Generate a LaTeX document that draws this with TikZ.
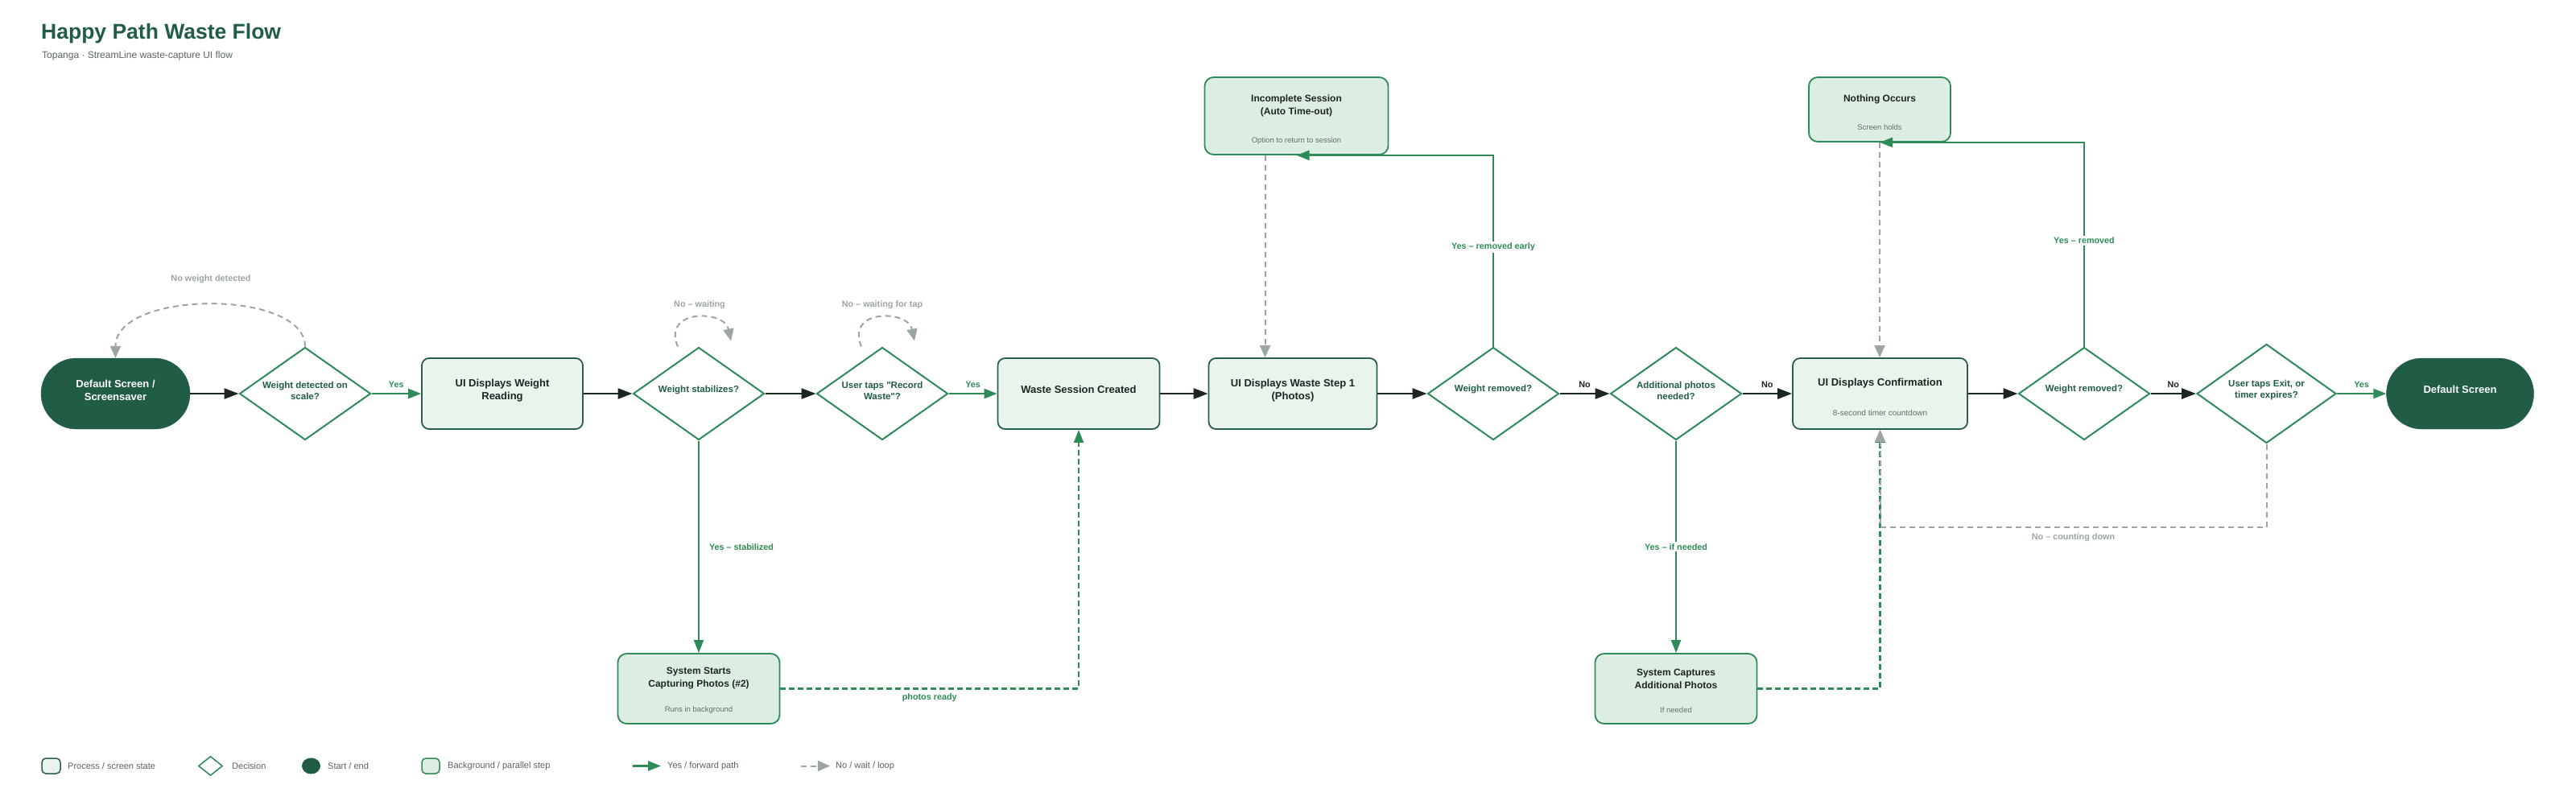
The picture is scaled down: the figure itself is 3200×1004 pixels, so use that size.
\documentclass[tikz,border=0pt]{standalone}
\usepackage{fontspec}
\setmainfont{Liberation Sans}[Ligatures=TeXOff]
\usetikzlibrary{shapes.geometric,arrows.meta,calc}
\definecolor{dkgreen}{HTML}{215C44}
\definecolor{fgreen}{HTML}{2E8B57}
\definecolor{procfill}{HTML}{E8F4EC}
\definecolor{bgfill}{HTML}{DCEEE3}
\definecolor{procdraw}{HTML}{2B5E4A}
\definecolor{grayc}{HTML}{9CA6A1}
\definecolor{blk}{HTML}{1B2620}
\definecolor{subgray}{HTML}{66706B}
\definecolor{txt}{HTML}{1E2622}
\definecolor{legtxt}{HTML}{5A6460}
\tikzset{
  proc/.style={draw=procdraw, line width=1.8pt, fill=procfill, rounded corners=9pt, inner sep=0pt, minimum height=88pt},
  bgbox/.style={draw=fgreen, line width=1.8pt, fill=bgfill, rounded corners=11pt, inner sep=0pt},
  term/.style={draw=dkgreen, fill=dkgreen, rounded corners=44pt, inner sep=0pt, minimum height=88pt},
  dec/.style={diamond, draw=fgreen, line width=2pt, fill=white, inner sep=0pt, minimum width=163pt, minimum height=115pt},
  ptext/.style={align=center, text=txt, font=\fontsize{13}{16}\selectfont\bfseries, inner sep=0pt},
  btext/.style={align=center, text=txt, font=\fontsize{12}{16}\selectfont\bfseries, inner sep=0pt},
  dtext/.style={align=center, text=dkgreen, font=\fontsize{11.5}{14}\selectfont\bfseries, inner sep=0pt},
  wtext/.style={align=center, text=white, font=\fontsize{13}{16}\selectfont\bfseries, inner sep=0pt},
  stext/.style={text=subgray, font=\fontsize{10}{12}\selectfont, inner sep=0pt},
  bstext/.style={text=subgray, font=\fontsize{9.5}{12}\selectfont, inner sep=0pt},
  blkarrow/.style={draw=blk, line width=2.6pt, -{Triangle[length=18pt,width=13pt]}},
  grnarrow/.style={draw=fgreen, line width=2.2pt, -{Triangle[length=16pt,width=12pt]}},
  grndash/.style={grnarrow, dash pattern=on 7pt off 4pt},
  grayarrow/.style={draw=grayc, line width=2pt, dash pattern=on 7pt off 5pt, -{Triangle[length=15pt,width=13pt]}},
  lblg/.style={text=fgreen, font=\fontsize{10.8}{12}\selectfont\bfseries, inner sep=2pt},
  lblgray/.style={lblg, text=grayc},
  lblk/.style={lblg, text=blk},
  legtext/.style={anchor=west, text=legtxt, font=\fontsize{11}{13}\selectfont, inner sep=0pt}
}
\begin{document}
\begin{tikzpicture}[x=1pt,y=-1pt]
\fill[white] (0,0) rectangle (3200,1004);
\useasboundingbox (0,0) rectangle (3200,1004);

% title
\node[anchor=base west, text=dkgreen, font=\fontsize{26.5}{30}\selectfont\bfseries, inner sep=0pt] (title) at (51,48) {Happy Path Waste Flow};
\node[anchor=base west, text=legtxt, font=\fontsize{12}{14}\selectfont, inner sep=0pt] (subtitle) at (52,72) {Topanga · StreamLine waste-capture UI flow};

% main row
\node[term, minimum width=185pt] (S) at (143.5,489) {};
\node[dec] (D1) at (379,489) {};
\node[proc, minimum width=200pt] (P1) at (624,489) {};
\node[dec] (D2) at (868,489) {};
\node[dec] (D3) at (1096,489) {};
\node[proc, minimum width=201pt] (P2) at (1340,489) {};
\node[proc, minimum width=209pt] (P3) at (1606,489) {};
\node[dec] (D4) at (1855,489) {};
\node[dec] (D5) at (2082,489) {};
\node[proc, minimum width=217pt] (P4) at (2335.5,489) {};
\node[dec] (D6) at (2589,489) {};
\node[dec, minimum width=173pt, minimum height=123pt] (D7) at (2815.5,489) {};
\node[term, minimum width=183pt] (E) at (3056,489) {};
\node[bgbox, minimum width=228pt, minimum height=96pt] (T1) at (1610.5,144) {};
\node[bgbox, minimum width=176pt, minimum height=80pt] (T2) at (2335,136) {};
\node[bgbox, minimum width=201pt, minimum height=87pt] (B1) at (868,855.5) {};
\node[bgbox, minimum width=201pt, minimum height=87pt] (B2) at (2082,855.5) {};

% texts
\node[wtext] (St) at ([yshift=4pt]S.center) {Default Screen /\\Screensaver};
\node[dtext] (D1t) at ([yshift=4pt]D1.center) {Weight detected on\\scale?};
\node[ptext] (P1t) at ([yshift=4pt]P1.center) {UI Displays Weight\\Reading};
\node[dtext] (D2t) at ([yshift=4pt]D2.center) {Weight stabilizes?};
\node[dtext] (D3t) at ([yshift=4pt]D3.center) {User taps "Record\\Waste"?};
\node[ptext] (P2t) at ([yshift=5pt]P2.center) {Waste Session Created};
\node[ptext] (P3t) at ([yshift=4pt]P3.center) {UI Displays Waste Step 1\\(Photos)};
\node[dtext] (D4t) at ([yshift=5pt]D4.center) {Weight removed?};
\node[dtext] (D5t) at ([yshift=4pt]D5.center) {Additional photos\\needed?};
\node[ptext] (P4t) at ([yshift=13pt]P4.center) {UI Displays Confirmation};
\node[stext] (P4s) at ([yshift=-24pt]P4.center) {8-second timer countdown};
\node[dtext] (D6t) at ([yshift=5pt]D6.center) {Weight removed?};
\node[dtext] (D7t) at ([yshift=4pt]D7.center) {User taps Exit, or\\timer expires?};
\node[wtext] (Et) at ([yshift=5pt]E.center) {Default Screen};
\node[btext] (T1t) at ([yshift=13pt]T1.center) {Incomplete Session\\(Auto Time-out)};
\node[bstext] (T1s) at ([yshift=-31pt]T1.center) {Option to return to session};
\node[btext] (T2t) at ([yshift=13pt]T2.center) {Nothing Occurs};
\node[bstext] (T2s) at ([yshift=-22pt]T2.center) {Screen holds};
\node[btext] (B1t) at ([yshift=12.5pt]B1.center) {System Starts\\Capturing Photos (\#2)};
\node[bstext] (B1s) at ([yshift=-26.5pt]B1.center) {Runs in background};
\node[btext] (B2t) at ([yshift=12.5pt]B2.center) {System Captures\\Additional Photos};
\node[bstext] (B2s) at ([yshift=-26.5pt]B2.center) {If needed};

% forward black arrows
\draw[blkarrow] (S) -- (D1);
\draw[blkarrow] (P1) -- (D2);
\draw[blkarrow] (D2) -- (D3);
\draw[blkarrow] (P2) -- (P3);
\draw[blkarrow] (P3) -- (D4);
\draw[blkarrow] (D4) -- node[lblk, above=4pt] (l4) {No} (D5);
\draw[blkarrow] (D5) -- node[lblk, above=4pt] (l5) {No} (P4);
\draw[blkarrow] (P4) -- (D6);
\draw[blkarrow] (D6) -- node[lblk, above=4pt] (l6) {No} (D7);

% green yes arrows
\draw[grnarrow] (D1) -- node[lblg, above=4pt] (l1) {Yes} (P1);
\draw[grnarrow] (D3) -- node[lblg, above=4pt] (l3) {Yes} (P2);
\draw[grnarrow] (D7) -- node[lblg, above=4pt] (l7) {Yes} (E);
\draw[grnarrow] (D2) -- node[lblg, right=10pt] (l2) {Yes – stabilized} (B1);
\draw[grnarrow] (D5) -- node[lblg, fill=white] (l5b) {Yes – if needed} (B2);
\draw[grnarrow] (D4.north) -- node[lblg, fill=white, pos=0.52] (l4b) {Yes – removed early} (D4.north |- T1.south) -- (T1.south);
\draw[grnarrow] (D6.north) -- node[lblg, fill=white, pos=0.52] (l6b) {Yes – removed} (D6.north |- T2.south) -- (T2.south);

% green dashed
\draw[grndash] (B1.east) -| node[lblg, below=3pt, pos=0.25] (lpr) {photos ready} (P2.south);
\draw[grndash] (B2.east) -| (P4.south);

% gray dashed
\draw[grayarrow] (D1.north) .. controls +(0,-71.5) and +(0,-85) .. (S.north);
\node[lblgray] (lnw) at (262,347) {No weight detected};
\draw[grayarrow] ([xshift=-26pt]D2.north) .. controls +(-20,-47) and +(-8,-39) .. ([xshift=40pt,yshift=7pt]D2.north);
\node[lblgray] (lw1) at (869,379) {No – waiting};
\draw[grayarrow] ([xshift=-26pt]D3.north) .. controls +(-20,-47) and +(-8,-39) .. ([xshift=40pt,yshift=7pt]D3.north);
\node[lblgray] (lw2) at (1096,379) {No – waiting for tap};
\draw[grayarrow] ([xshift=-39pt]T1.south) -- ([xshift=-39pt]T1.south |- P3.north);
\draw[grayarrow] (T2.south) -- (T2.south |- P4.north);
\draw[grayarrow] (D7.south) -- ++(0,103.5) -| node[lblgray, below=5pt, pos=0.25] (lcd) {No – counting down} (P4.south);

% legend
\node[proc, minimum width=23pt, minimum height=19pt, rounded corners=5pt, line width=1.5pt] (L1) at (63.5,951.5) {};
\node[legtext] (L1t) at (84,952) {Process / screen state};
\node[dec, minimum width=30pt, minimum height=24pt, line width=1.5pt] (L2) at (261.5,951.5) {};
\node[legtext] (L2t) at (288,952) {Decision};
\node[ellipse, fill=dkgreen, minimum width=23pt, minimum height=20pt, inner sep=0pt] (L3) at (386.5,951.5) {};
\node[legtext] (L3t) at (407,952) {Start / end};
\node[bgbox, minimum width=22pt, minimum height=19pt, rounded corners=5pt, line width=1.5pt] (L4) at (535,951.5) {};
\node[legtext] (L4t) at (556,952) {Background / parallel step};
\coordinate (L5a) at (786,951.5);
\coordinate (L5b) at (821,951.5);
\draw[grnarrow, line width=2.6pt] (L5a) -- (L5b);
\node[legtext] (L5t) at (829,952) {Yes / forward path};
\coordinate (L6a) at (995,951.5);
\coordinate (L6b) at (1031,951.5);
\draw[grayarrow] (L6a) -- (L6b);
\node[legtext] (L6t) at (1038,952) {No / wait / loop};
\end{tikzpicture}
\end{document}
